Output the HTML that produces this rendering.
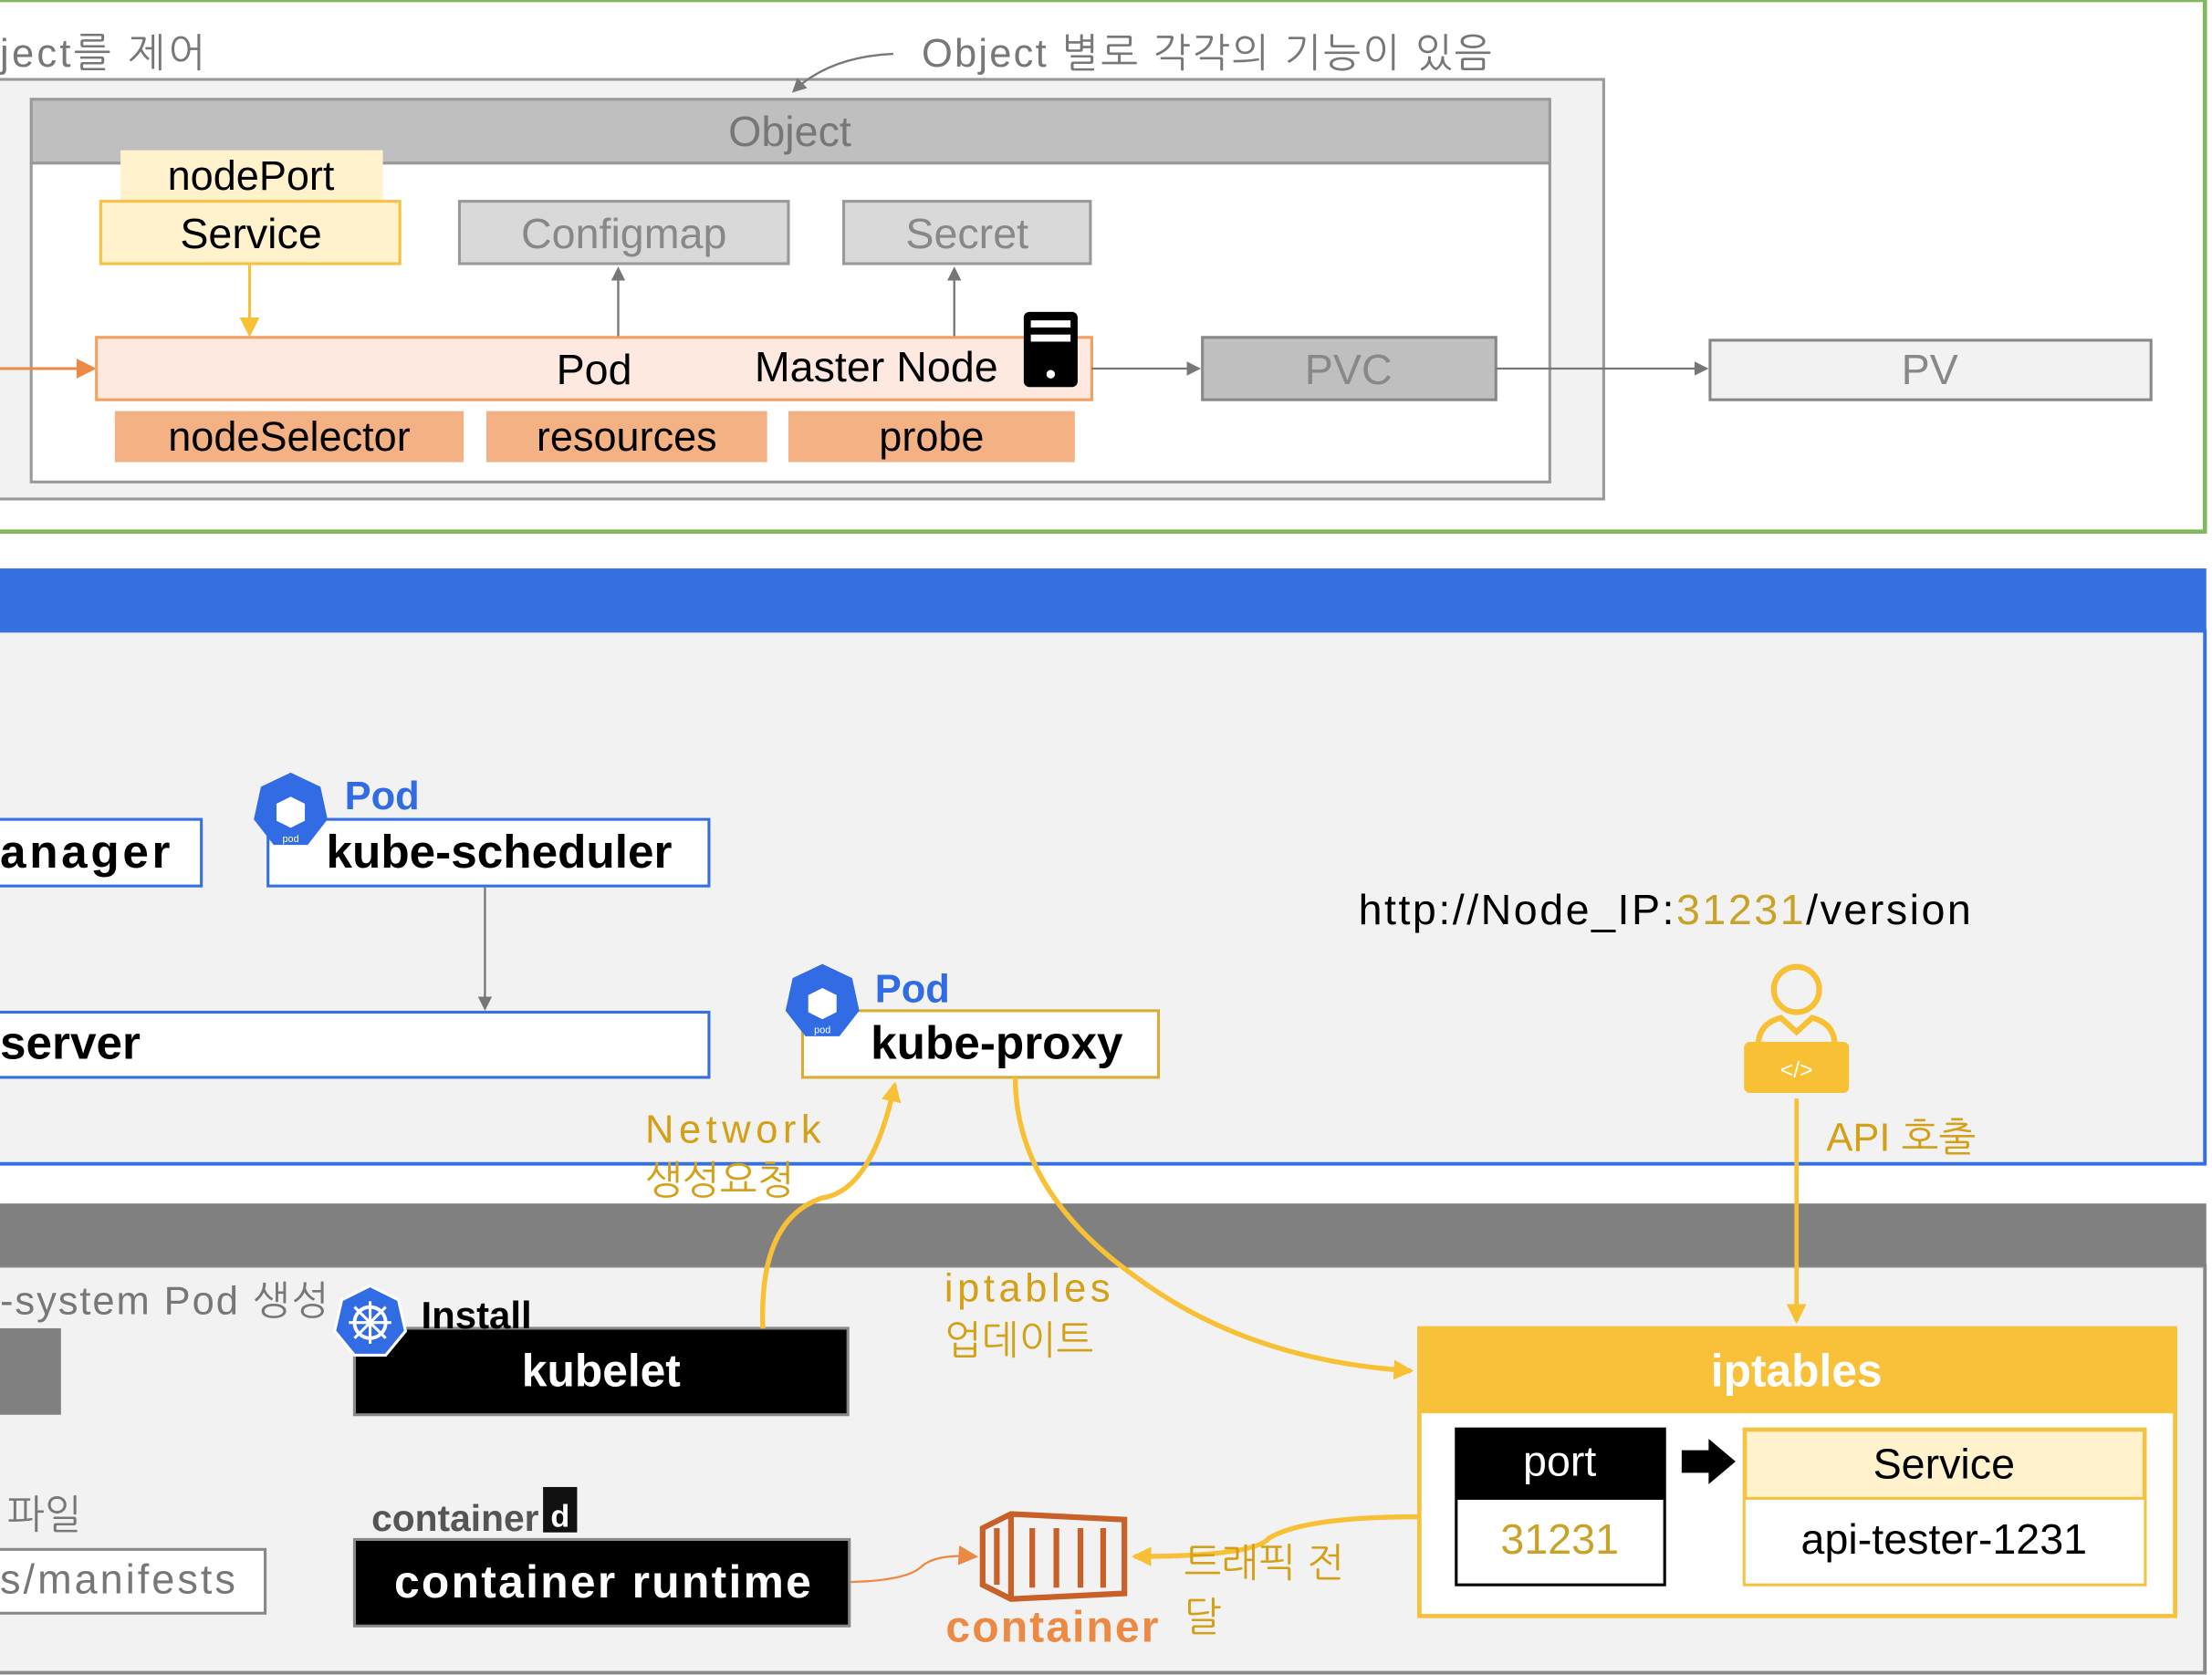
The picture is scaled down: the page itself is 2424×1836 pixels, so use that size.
<!DOCTYPE html>
<html><head><meta charset="utf-8"><style>
html,body{margin:0;padding:0;background:#fff;width:2424px;height:1836px;overflow:hidden}
svg{display:block}
text{font-family:"Liberation Sans","NanumGothic","Noto Sans CJK KR",sans-serif}
.b{font-weight:bold}
</style></head><body>
<svg width="2424" height="1836" viewBox="0 0 1560 1181.6" xmlns="http://www.w3.org/2000/svg">
<defs>
<marker id="ag" markerWidth="10" markerHeight="10" refX="8" refY="5" orient="auto" markerUnits="userSpaceOnUse"><path d="M0,0 L10,5 L0,10 z" fill="#777"/></marker>
<marker id="ay" markerWidth="14" markerHeight="14" refX="12" refY="7" orient="auto" markerUnits="userSpaceOnUse"><path d="M0,0 L14,7 L0,14 z" fill="#f7c035"/></marker>
<marker id="ao" markerWidth="14" markerHeight="14" refX="12" refY="7" orient="auto" markerUnits="userSpaceOnUse"><path d="M0,0 L14,7 L0,14 z" fill="#ec8a45"/></marker>
</defs>
<rect width="1560" height="1182" fill="#fff"/>
<!-- top section -->
<rect x="-5" y="0" width="1560" height="375" fill="#fff" stroke="#82b85a" stroke-width="3"/>
<text x="0" y="47" font-size="28" fill="#777" textLength="145">ject를 제어</text>
<text x="650" y="47" font-size="28" fill="#777" textLength="402">Object 별로 각각의 기능이 있음</text>
<rect x="-5" y="56" width="1136" height="296" fill="#f2f2f2" stroke="#999" stroke-width="2"/>
<rect x="22" y="115" width="1071" height="225" fill="#fff" stroke="#999" stroke-width="2"/>
<rect x="22" y="70" width="1071" height="45" fill="#bfbfbf" stroke="#999" stroke-width="2"/>
<path d="M630,38 Q585,40 560,64" fill="none" stroke="#777" stroke-width="1.5" marker-end="url(#ag)"/>
<text x="557" y="103" font-size="30" fill="#777" text-anchor="middle">Object</text>
<rect x="85" y="106" width="185" height="36" fill="#fff2cc"/>
<text x="177" y="134" font-size="29" text-anchor="middle">nodePort</text>
<rect x="71" y="142" width="211" height="44" fill="#fff2cc" stroke="#f5c242" stroke-width="2"/>
<text x="177" y="175" font-size="30" text-anchor="middle">Service</text>
<rect x="324" y="142" width="232" height="44" fill="#d9d9d9" stroke="#999" stroke-width="2"/>
<text x="440" y="175" font-size="30" fill="#888" text-anchor="middle">Configmap</text>
<rect x="595" y="142" width="174" height="44" fill="#d9d9d9" stroke="#999" stroke-width="2"/>
<text x="682" y="175" font-size="30" fill="#888" text-anchor="middle">Secret</text>
<line x1="436" y1="238" x2="436" y2="190" stroke="#777" stroke-width="1.5" marker-end="url(#ag)"/>
<line x1="673" y1="238" x2="673" y2="190" stroke="#777" stroke-width="1.5" marker-end="url(#ag)"/>
<line x1="176" y1="187" x2="176" y2="236" stroke="#f7c035" stroke-width="2" marker-end="url(#ay)"/>
<line x1="0" y1="260" x2="66" y2="260" stroke="#ec8a45" stroke-width="2" marker-end="url(#ao)"/>
<rect x="68" y="238" width="702" height="44" fill="#fde9e0" stroke="#f0a060" stroke-width="2"/>
<text x="419" y="271" font-size="30" text-anchor="middle">Pod</text>
<text x="618" y="269" font-size="30" text-anchor="middle">Master Node</text>
<rect x="722" y="220" width="38" height="53" rx="4" fill="#000"/>
<rect x="727" y="226" width="28" height="5" fill="#fff"/><rect x="727" y="236" width="28" height="5" fill="#fff"/>
<circle cx="741" cy="264" r="3" fill="#fff"/>
<rect x="81" y="290" width="246" height="36" fill="#f4b183"/>
<text x="204" y="318" font-size="29" text-anchor="middle">nodeSelector</text>
<rect x="343" y="290" width="198" height="36" fill="#f4b183"/>
<text x="442" y="318" font-size="29" text-anchor="middle">resources</text>
<rect x="556" y="290" width="202" height="36" fill="#f4b183"/>
<text x="657" y="318" font-size="29" text-anchor="middle">probe</text>
<line x1="770" y1="260" x2="845" y2="260" stroke="#777" stroke-width="1.5" marker-end="url(#ag)"/>
<rect x="848" y="238" width="207" height="44" fill="#bfbfbf" stroke="#888" stroke-width="2"/>
<text x="951" y="271" font-size="30" fill="#888" text-anchor="middle">PVC</text>
<line x1="1055" y1="260" x2="1203" y2="260" stroke="#777" stroke-width="1.5" marker-end="url(#ag)"/>
<rect x="1206" y="240" width="311" height="42" fill="#f2f2f2" stroke="#888" stroke-width="2"/>
<text x="1361" y="271" font-size="30" fill="#888" text-anchor="middle">PV</text>
<!-- blue section -->
<rect x="-5" y="445" width="1560" height="376" fill="#f2f2f2" stroke="#3570e0" stroke-width="2.5"/>
<rect x="0" y="401" width="1556" height="44" fill="#3570e0"/>
<rect x="-5" y="578" width="147" height="47" fill="#fff" stroke="#3570e0" stroke-width="2"/>
<text x="0" y="612" font-size="33" class="b" textLength="120">anager</text>
<rect x="189" y="578" width="311" height="47" fill="#fff" stroke="#3570e0" stroke-width="2"/>
<text x="352" y="612" font-size="33" class="b" text-anchor="middle">kube-scheduler</text>
<g transform="translate(205,572)"><polygon points="0,-27 21,-17 26,6 12,24 -12,24 -26,6 -21,-17" fill="#326ce5"/><polygon points="0,-10 10,-5 10,7 0,12 -10,7 -10,-5" fill="#fff"/><text x="0" y="22" font-size="7" fill="#fff" text-anchor="middle">pod</text></g>
<text x="243" y="571" font-size="28" class="b" fill="#326ce5">Pod</text>
<line x1="342" y1="626" x2="342" y2="711" stroke="#777" stroke-width="1.5" marker-end="url(#ag)"/>
<rect x="-5" y="714" width="505" height="46" fill="#fff" stroke="#3570e0" stroke-width="2"/>
<text x="0" y="747" font-size="33" class="b">server</text>
<rect x="566" y="713" width="251" height="47" fill="#fff" stroke="#d9ad35" stroke-width="2"/>
<text x="703" y="747" font-size="33" class="b" text-anchor="middle">kube-proxy</text>
<g transform="translate(580,707)"><polygon points="0,-27 21,-17 26,6 12,24 -12,24 -26,6 -21,-17" fill="#326ce5"/><polygon points="0,-10 10,-5 10,7 0,12 -10,7 -10,-5" fill="#fff"/><text x="0" y="22" font-size="7" fill="#fff" text-anchor="middle">pod</text></g>
<text x="617" y="707" font-size="28" class="b" fill="#326ce5">Pod</text>
<text x="958" y="652" font-size="30" textLength="432">http://Node_IP:<tspan fill="#c9a227">31231</tspan>/version</text>
<g fill="#f7c035" stroke="#f7c035">
<circle cx="1267" cy="698" r="16" fill="none" stroke-width="4"/>
<path d="M1240,770 L1240,738 Q1240,722 1256,718 L1267,728 L1278,718 Q1294,722 1294,738 L1294,770" fill="none" stroke-width="4"/>
<rect x="1230" y="735" width="74" height="36" rx="4" stroke="none"/>
</g>
<text x="1267" y="760" font-size="16" fill="#fff" text-anchor="middle">&lt;/&gt;</text>
<text x="1288" y="812" font-size="28" fill="#d4a017">API 호출</text>
<text x="455" y="806" font-size="28" fill="#d4a017" textLength="124">Network</text>
<text x="455" y="842" font-size="28" fill="#d4a017">생성요청</text>
<!-- gray section -->
<rect x="-5" y="893" width="1560" height="287" fill="#f2f2f2" stroke="#888" stroke-width="2.5"/>
<rect x="0" y="849" width="1556" height="44" fill="#808080"/>
<text x="0" y="927" font-size="28" fill="#777" textLength="232">-system Pod 생성</text>
<rect x="0" y="937" width="43" height="61" fill="#808080"/>
<text x="5" y="1078" font-size="28" fill="#777">파일</text>
<rect x="-5" y="1093" width="192" height="45" fill="#fff" stroke="#888" stroke-width="2"/>
<text x="0" y="1124" font-size="29" fill="#777" textLength="166">s/manifests</text>
<rect x="250" y="937" width="348" height="61" fill="#000" stroke="#888" stroke-width="2"/>
<text x="424" y="978" font-size="32" class="b" fill="#fff" text-anchor="middle">kubelet</text>
<g transform="translate(261,933)"><polygon points="0,-26 20,-16 25,6 11,23 -11,23 -25,6 -20,-16" fill="#326ce5" stroke="#fff" stroke-width="2"/><circle r="11" fill="none" stroke="#fff" stroke-width="2.5"/><path d="M0,-15V15M-15,0H15M-11,-11L11,11M11,-11L-11,11" stroke="#fff" stroke-width="2"/></g>
<text x="297" y="937" font-size="27" class="b">Install</text>
<text x="262" y="1080" font-size="26" class="b" fill="#555" textLength="118" lengthAdjust="spacingAndGlyphs">container</text>
<rect x="383" y="1049" width="24" height="32" fill="#111"/><text x="395" y="1077" font-size="22" class="b" fill="#fff" text-anchor="middle">d</text>
<rect x="250" y="1086" width="349" height="61" fill="#000" stroke="#888" stroke-width="2"/>
<text x="425" y="1127" font-size="32" class="b" fill="#fff" text-anchor="middle" textLength="294">container runtime</text>
<path d="M600,1116 Q640,1115 650,1105 Q660,1096 688,1098" fill="none" stroke="#ec8a45" stroke-width="1.5" marker-end="url(#ao)"/>
<g fill="none" stroke="#c8602a" stroke-width="4"><path d="M693,1078 L713,1068 L793,1072 L793,1124 L713,1128 L693,1118 Z"/><path d="M713,1068 L713,1128"/><path d="M703,1078V1118M728,1078V1120M745,1078V1120M762,1078V1120M778,1078V1120"/></g>
<text x="667" y="1158" font-size="31" class="b" fill="#ec8a45" textLength="150">container</text>
<path d="M1000,1070 Q920,1070 895,1085 Q885,1098 800,1098" fill="none" stroke="#f7c035" stroke-width="3.5" marker-end="url(#ay)"/>
<text x="835" y="1112" font-size="28" fill="#d4a017">트래픽 전</text>
<text x="835" y="1150" font-size="28" fill="#d4a017">달</text>
<text x="666" y="918" font-size="28" fill="#d4a017" textLength="117">iptables</text>
<text x="666" y="955" font-size="28" fill="#d4a017">업데이트</text>
<path d="M716,760 Q716,840 800,900 Q880,960 995,967" fill="none" stroke="#f7c035" stroke-width="3.5" marker-end="url(#ay)"/>
<path d="M538,937 Q535,860 580,845 Q615,840 631,765" fill="none" stroke="#f7c035" stroke-width="3.5" marker-end="url(#ay)"/>
<line x1="1267" y1="775" x2="1267" y2="932" stroke="#f7c035" stroke-width="3" marker-end="url(#ay)"/>
<rect x="1001" y="937" width="533" height="203" fill="#fff" stroke="#f9c13a" stroke-width="3"/>
<rect x="1001" y="937" width="533" height="60" fill="#f9c13a"/>
<text x="1267" y="978" font-size="32" class="b" fill="#fff" text-anchor="middle">iptables</text>
<rect x="1027" y="1008" width="147" height="110" fill="#fff" stroke="#000" stroke-width="2"/>
<rect x="1027" y="1008" width="147" height="50" fill="#000"/>
<text x="1100" y="1041" font-size="30" fill="#fff" text-anchor="middle">port</text>
<text x="1100" y="1096" font-size="30" fill="#c9a227" text-anchor="middle">31231</text>
<path d="M1186,1023 H1205 V1015 L1224,1031 L1205,1047 V1039 H1186 Z" fill="#000"/>
<rect x="1230" y="1008" width="283" height="110" fill="#fff" stroke="#f5c242" stroke-width="2"/>
<rect x="1231" y="1009" width="281" height="48" fill="#fff2cc" stroke="#f5c242" stroke-width="2"/>
<text x="1371" y="1043" font-size="30" text-anchor="middle">Service</text>
<text x="1371" y="1096" font-size="30" text-anchor="middle">api-tester-1231</text>
</svg>
</body></html>
